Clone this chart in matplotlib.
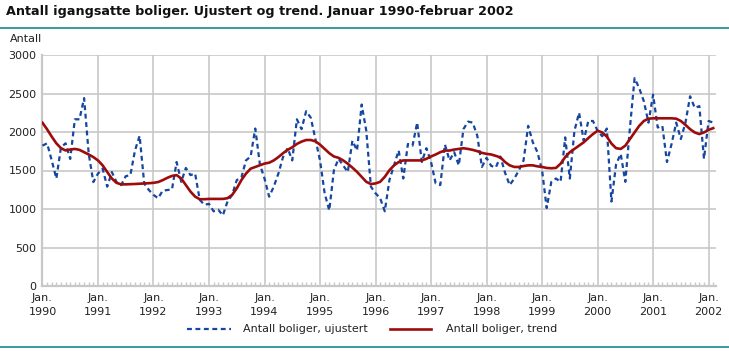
import matplotlib
matplotlib.use('Agg')
import matplotlib.pyplot as plt
from matplotlib.lines import Line2D
import numpy as np

plt.rcParams['font.family'] = ['Liberation Sans Narrow', 'DejaVu Sans Condensed', 'DejaVu Sans']

# ---------------- data (monthly, Jan 1990 - Feb 2002) ----------------
years = list(range(1990, 2003))

ujustert = [
    1823, 1853, 1631, 1396, 1800, 1853, 1650, 2165, 2165, 2440, 1716, 1350,  # 1990
    1460, 1524, 1290, 1480, 1350, 1310, 1426, 1440, 1760, 1950, 1330, 1247,  # 1991
    1183, 1140, 1238, 1247, 1255, 1610, 1353, 1533, 1440, 1460, 1119, 1055,  # 1992
    1067, 970, 990, 918, 1097, 1183, 1375, 1409, 1631, 1682, 2045, 1580,     # 1993
    1396, 1160, 1290, 1460, 1674, 1790, 1631, 2165, 2037, 2270, 2186, 1909,  # 1994
    1631, 1204, 982, 1503, 1652, 1567, 1480, 1887, 1760, 2357, 2016, 1290,   # 1995
    1204, 1140, 970, 1375, 1567, 1760, 1396, 1845, 1823, 2122, 1610, 1790,   # 1996
    1610, 1332, 1311, 1836, 1631, 1738, 1567, 2037, 2135, 2122, 1951, 1546,  # 1997
    1665, 1560, 1540, 1680, 1470, 1311, 1396, 1503, 1631, 2080, 1866, 1738,  # 1998
    1503, 1012, 1353, 1396, 1353, 1930, 1396, 2016, 2250, 1887, 2143, 2143,  # 1999
    2016, 1945, 2045, 1097, 1580, 1716, 1353, 2058, 2699, 2570, 2400, 2122,  # 2000
    2485, 2058, 2080, 1610, 1845, 2122, 1909, 2122, 2464, 2314, 2336, 1652,  # 2001
    2143, 2122,                                                              # 2002
]

trend = [
    2120, 2035, 1940, 1853, 1790, 1760, 1772, 1780, 1768, 1738, 1708, 1674,  # 1990
    1631, 1567, 1480, 1396, 1340, 1320, 1320, 1322, 1325, 1328, 1332, 1335,  # 1991
    1340, 1350, 1375, 1405, 1430, 1440, 1396, 1311, 1226, 1161, 1127, 1127,  # 1992
    1131, 1131, 1131, 1131, 1140, 1183, 1268, 1375, 1460, 1524, 1546, 1567,  # 1993
    1590, 1601, 1631, 1674, 1725, 1768, 1802, 1845, 1875, 1896, 1896, 1879,  # 1994
    1836, 1780, 1725, 1682, 1665, 1631, 1588, 1537, 1482, 1418, 1353, 1324,  # 1995
    1332, 1353, 1418, 1503, 1567, 1610, 1631, 1631, 1631, 1631, 1631, 1652,  # 1996
    1682, 1708, 1738, 1759, 1759, 1772, 1780, 1789, 1780, 1768, 1751, 1729,  # 1997
    1716, 1708, 1690, 1670, 1610, 1567, 1546, 1546, 1558, 1567, 1567, 1554,  # 1998
    1546, 1533, 1529, 1533, 1588, 1674, 1738, 1780, 1823, 1866, 1921, 1973,  # 1999
    2016, 1994, 1940, 1850, 1790, 1780, 1823, 1909, 1994, 2080, 2143, 2173,  # 2000
    2178, 2178, 2178, 2178, 2178, 2173, 2143, 2092, 2037, 1994, 1973, 1994,  # 2001
    2028, 2050,                                                              # 2002
]

y_ticks = [0, 500, 1000, 1500, 2000, 2500, 3000]

# ---------------- figure ----------------
fig = plt.figure(figsize=(7.29, 3.51), dpi=100)
ax = fig.add_axes([42 / 729, 1 - 286 / 351, 674 / 729, 231 / 351])

x = np.arange(len(ujustert))
grid_c = '#c8c8c8'

ax.plot(x, ujustert, color='#1546a0', lw=1.6, ls=(0, (2.2, 1.6)), zorder=3)
ax.plot(np.arange(len(trend)), trend, color='#9e0b0b', lw=1.9, zorder=4)

ax.set_xlim(-0.1, 145.6)
ax.set_ylim(0, 3000)
ax.set_yticks(y_ticks)
ax.set_yticklabels([str(v) for v in y_ticks], fontsize=8, color='#222222')

major = [12 * i for i in range(len(years))]
ax.set_xticks(major)
ax.set_xticklabels([f'Jan.\n{y}' for y in years], fontsize=8, color='#222222',
                   linespacing=1.5)
ax.set_xticks([m for m in range(0, 146) if m % 12 != 0], minor=True)

ax.tick_params(axis='x', which='major', length=0, pad=5)
ax.tick_params(axis='x', which='minor', direction='in', length=3, color=grid_c, width=1)
ax.tick_params(axis='y', length=0, pad=4)

ax.grid(True, which='major', color=grid_c, lw=1.2)
ax.set_axisbelow(True)
for s in ['top', 'right']:
    ax.spines[s].set_visible(False)
for s in ['left', 'bottom']:
    ax.spines[s].set_color(grid_c)
    ax.spines[s].set_linewidth(1.6)

# title and labels
fig.text(6 / 729, 1 - 12 / 351, 'Antall igangsatte boliger. Ujustert og trend. Januar 1990-februar 2002',
         fontsize=9.2, fontweight='bold', color='#111111', va='center', ha='left')
fig.text(10 / 729, 1 - 39 / 351, 'Antall', fontsize=8, color='#222222', va='center', ha='left')

teal = '#1a8a8c'
fig.add_artist(Line2D([0, 1], [1 - 28 / 351] * 2, color=teal, lw=1.2, transform=fig.transFigure))
fig.add_artist(Line2D([0, 1], [1 - 347 / 351] * 2, color=teal, lw=1.2, transform=fig.transFigure))

# legend
ly = 1 - 329 / 351
fig.add_artist(Line2D([187 / 729, 231 / 729], [ly, ly], color='#1546a0', lw=1.6,
                      ls=(0, (2.2, 1.6)), transform=fig.transFigure))
fig.text(243 / 729, ly, 'Antall boliger, ujustert', fontsize=8, color='#222222', va='center')
fig.add_artist(Line2D([390 / 729, 431 / 729], [ly, ly], color='#9e0b0b', lw=1.9,
                      transform=fig.transFigure))
fig.text(446 / 729, ly, 'Antall boliger, trend', fontsize=8, color='#222222', va='center')

fig.savefig('out.png', dpi=100)
